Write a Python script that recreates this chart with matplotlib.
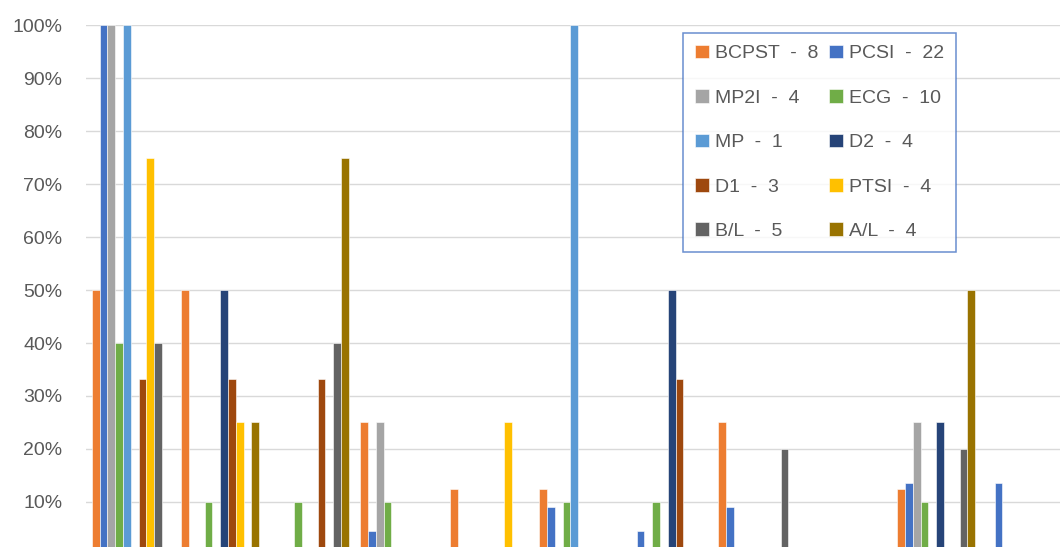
import numpy as np
import matplotlib.pyplot as plt

# series (legend order = bar order inside each group)
series = ["BCPST  -  8", "PCSI  -  22", "MP2I  -  4", "ECG  -  10", "MP  -  1",
          "D2  -  4", "D1  -  3", "PTSI  -  4", "B/L  -  5", "A/L  -  4"]
colors = ["#ED7D31", "#4472C4", "#A5A5A5", "#70AD47", "#5B9BD5",
          "#264478", "#9E480E", "#FFC000", "#636363", "#997300"]

# share per group (11 visible groups)
bcpst = [0.50, 0.50, 0, 0.25, 0.125, 0.125, 0, 0.25, 0, 0.125, 0]
pcsi = [1.00, 0, 0, 0.045, 0, 0.091, 0.045, 0.091, 0, 0.136, 0.136]
mp2i = [1.00, 0, 0, 0.25, 0, 0, 0, 0, 0, 0.25, 0]
ecg = [0.40, 0.10, 0.10, 0.10, 0, 0.10, 0.10, 0, 0, 0.10, 0]
mp = [1.00, 0, 0, 0, 0, 1.00, 0, 0, 0, 0, 0]
d2 = [0, 0.50, 0, 0, 0, 0, 0.50, 0, 0, 0.25, 0]
d1 = [0.333, 0.333, 0.333, 0, 0, 0, 0.333, 0, 0, 0, 0]
ptsi = [0.75, 0.25, 0, 0, 0.25, 0, 0, 0, 0, 0, 0]
bl = [0.40, 0, 0.40, 0, 0, 0, 0, 0.20, 0, 0.20, 0]
al = [0, 0.25, 0.75, 0, 0, 0, 0, 0, 0, 0.50, 0]

values = [bcpst, pcsi, mp2i, ecg, mp, d2, d1, ptsi, bl, al]
x = np.arange(len(bcpst))

W, H = 1060, 547
fig = plt.figure(figsize=(W / 100, H / 100), dpi=100)
plt.rcParams["font.family"] = ["Liberation Sans", "DejaVu Sans"]

# plot area runs past the bottom/right edge of the picture (cropped chart)
left_px, top_px, zero_px = 86, 25.4, 554.8
group_px = 89.5
xmin, xmax = -0.5, 11.5
ax = fig.add_axes([left_px / W, (H - zero_px) / H,
                   (xmax - xmin) * group_px / W, (zero_px - top_px) / H])

w = 0.087
bars = []
for i, (name, vals, c) in enumerate(zip(series, values, colors)):
    b = ax.bar(x + (i - 4.5) * w, vals, width=w, color=c, label=name,
               edgecolor="white", linewidth=0.4)
    bars.append(b)

ax.set_xlim(xmin, xmax)
ax.set_ylim(0, 1)
ax.set_yticks(np.arange(0, 1.01, 0.1))
ax.set_yticklabels([f"{int(round(v * 100))}%" for v in np.arange(0, 1.01, 0.1)])
ax.set_xticks([])
ax.tick_params(axis="y", length=0, pad=17, labelsize=14, labelcolor="#595959")
ax.grid(axis="y", color="#D9D9D9", linewidth=1.0)
ax.set_axisbelow(True)
for s in ax.spines.values():
    s.set_visible(False)

# legend filled row by row, like Excel
order = [0, 2, 4, 6, 8, 1, 3, 5, 7, 9]
leg = fig.legend([bars[i] for i in order], [series[i] for i in order],
                 loc="upper left", bbox_to_anchor=(683 / W, 1 - 33 / H),
                 ncol=2, fontsize=14, frameon=True, fancybox=False,
                 handlelength=0.72, handleheight=0.7, handletextpad=0.35,
                 columnspacing=0.5, labelspacing=1.38, borderpad=0.6,
                 borderaxespad=0)
leg.get_frame().set_edgecolor("#4472C4")
leg.get_frame().set_linewidth(1.1)
for t in leg.get_texts():
    t.set_color("#595959")

fig.savefig("out.png", dpi=100)
